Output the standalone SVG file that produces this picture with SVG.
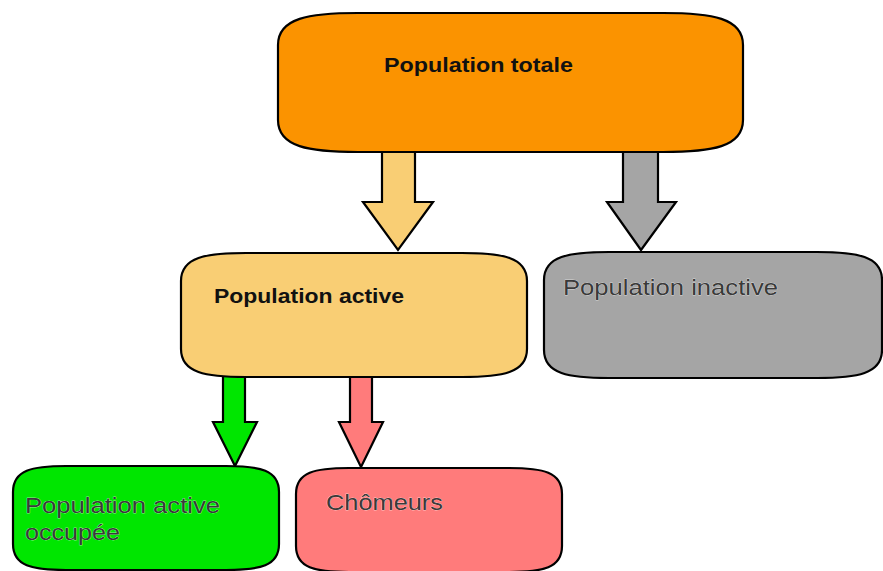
<svg xmlns="http://www.w3.org/2000/svg" width="883" height="571" viewBox="0 0 883 571">
<style>
.box{stroke:#000;stroke-width:2.2}
.arr{stroke:#000;stroke-width:2.2;stroke-linejoin:miter}
.t{font-family:"Liberation Sans",Arial,sans-serif;font-size:22px}
.b{font-weight:bold;fill:#111;font-size:21px}
.r{fill:#3a3a3a;stroke:#fff;stroke-width:0.4;paint-order:stroke}
</style>
<rect width="883" height="571" fill="#fff"/>
<g id="connectors">
<path class="arr" fill="#F9CE74" d="M382,152 V202 H363 L398,250 L433,202 H415 V152"/>
<path class="arr" fill="#A5A5A5" d="M623,152 V202 H607 L641,250 L676,202 H658 V152"/>
<path class="arr" fill="#00E600" d="M223,377 V422 H213 L235,466 L257,422 H245 V377"/>
<path class="arr" fill="#FF7B7B" d="M350,377 V422 H339 L361,467 L383,422 H372 V377"/>
</g>
<g id="node-totale">
<path class="box" fill="#FB9300" d="M358,13 H663 C712,13 743,18 743,45 V120 C743,147 712,152 663,152 H358 C309,152 278,147 278,120 V45 C278,18 309,13 358,13 Z"/>
<text class="t b" x="384" y="72" textLength="189" lengthAdjust="spacingAndGlyphs">Population totale</text>
</g>
<g id="node-active">
<path class="box" fill="#F9CE74" d="M246,253 H462 C502,253 527,257 527,281 V349 C527,373 502,377 462,377 H246 C206,377 181,373 181,349 V281 C181,257 206,253 246,253 Z"/>
<text class="t b" x="214" y="303" textLength="190" lengthAdjust="spacingAndGlyphs">Population active</text>
</g>
<g id="node-inactive">
<path class="box" fill="#A5A5A5" d="M609,252 H817 C857,252 882,256 882,280 V350 C882,374 857,378 817,378 H609 C569,378 544,374 544,350 V280 C544,256 569,252 609,252 Z"/>
<text class="t r" x="563" y="295" textLength="215" lengthAdjust="spacingAndGlyphs">Population inactive</text>
</g>
<g id="node-occupee">
<path class="box" fill="#00E600" d="M66,466 H226 C260,466 279,470 279,492 V544 C279,566 260,570 226,570 H66 C32,570 13,566 13,544 V492 C13,470 32,466 66,466 Z"/>
<text class="t r" x="25" y="513" textLength="195" lengthAdjust="spacingAndGlyphs">Population active</text>
<text class="t r" x="25" y="540" textLength="95" lengthAdjust="spacingAndGlyphs">occupée</text>
</g>
<g id="node-chomeurs">
<path class="box" fill="#FF7B7B" d="M349,468 H509 C543,468 562,472 562,494 V546 C562,568 543,572 509,572 H349 C315,572 296,568 296,546 V494 C296,472 315,468 349,468 Z"/>
<text class="t r" x="326" y="510" textLength="117" lengthAdjust="spacingAndGlyphs">Chômeurs</text>
</g>
</svg>
